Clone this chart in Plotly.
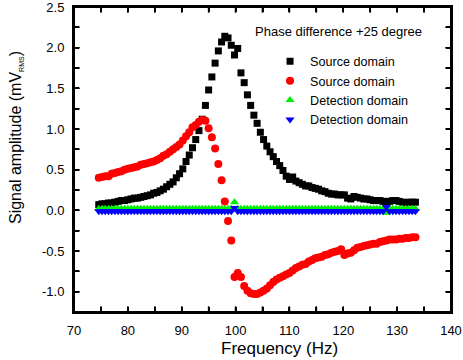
import plotly.graph_objects as go

# frequency sweep (Hz)
freq = [
    74.6, 75.2, 75.8, 76.4, 77.0, 77.6, 78.2, 78.8, 79.4, 80.0,
    80.6, 81.2, 81.8, 82.4, 83.0, 83.6, 84.2, 84.8, 85.4, 86.0,
    86.6, 87.2, 87.8, 88.4, 89.0, 89.6, 90.2, 90.8, 91.4, 92.0,
    92.6, 93.2, 93.8, 94.4, 95.0, 95.6, 96.2, 96.8, 97.4, 98.0,
    98.6, 99.2, 99.8, 100.4, 101.0, 101.6, 102.2, 102.8, 103.4, 104.0,
    104.6, 105.2, 105.8, 106.4, 107.0, 107.6, 108.2, 108.8, 109.4, 110.0,
    110.6, 111.2, 111.8, 112.4, 113.0, 113.6, 114.2, 114.8, 115.4, 116.0,
    116.6, 117.2, 117.8, 118.4, 119.0, 119.6, 120.2, 120.8, 121.4, 122.0,
    122.6, 123.2, 123.8, 124.4, 125.0, 125.6, 126.2, 126.8, 127.4, 128.0,
    128.6, 129.2, 129.8, 130.4, 131.0, 131.6, 132.2, 132.8, 133.4,
]

# source domain, squares
source_sq = [
    0.07, 0.08, 0.08, 0.09, 0.09, 0.10, 0.11, 0.12, 0.12, 0.13,
    0.14, 0.15, 0.15, 0.16, 0.17, 0.18, 0.19, 0.21, 0.22, 0.24,
    0.26, 0.29, 0.32, 0.35, 0.40, 0.45, 0.51, 0.60, 0.68, 0.77,
    0.87, 0.98, 1.12, 1.29, 1.48, 1.64, 1.81, 1.96, 2.07, 2.14,
    2.12, 2.03, 1.91, 1.99, 1.69, 1.57, 1.42, 1.29, 1.17, 1.07,
    0.96, 0.87, 0.79, 0.72, 0.66, 0.60, 0.55, 0.49, 0.42, 0.38,
    0.41, 0.36, 0.34, 0.32, 0.30, 0.30, 0.28, 0.27, 0.26, 0.24,
    0.23, 0.21, 0.20, 0.20, 0.19, 0.19, 0.19, 0.15, 0.14, 0.17,
    0.16, 0.15, 0.14, 0.14, 0.13, 0.12, 0.12, 0.12, 0.11, 0.11,
    0.11, 0.12, 0.12, 0.11, 0.10, 0.09, 0.10, 0.10, 0.10,
]

# source domain, circles
source_ci = [
    0.40, 0.41, 0.42, 0.42, 0.45, 0.46, 0.47, 0.48, 0.50, 0.51,
    0.52, 0.53, 0.54, 0.56, 0.57, 0.58, 0.59, 0.60, 0.62, 0.64,
    0.67, 0.69, 0.72, 0.75, 0.78, 0.81, 0.86, 0.91, 0.96, 1.02,
    1.05, 1.09, 1.11, 1.10, 1.01, 0.90, 0.76, 0.57, 0.37, 0.11,
    -0.13, -0.37, -0.82, -0.77, -0.82, -0.93, -0.99, -1.02, -1.03, -1.03,
    -1.01, -0.99, -0.96, -0.92, -0.88, -0.85, -0.83, -0.81, -0.79, -0.77,
    -0.74, -0.71, -0.69, -0.67, -0.66, -0.63, -0.61, -0.59, -0.58, -0.57,
    -0.55, -0.54, -0.52, -0.51, -0.50, -0.48, -0.55, -0.53, -0.52, -0.49,
    -0.46, -0.45, -0.44, -0.43, -0.42, -0.41, -0.41, -0.39, -0.38, -0.37,
    -0.36, -0.36, -0.36, -0.35, -0.35, -0.34, -0.34, -0.33, -0.33,
]

# detection domain, up triangles
detect_up = [
    0.02, 0.02, 0.02, 0.02, 0.02, 0.02, 0.02, 0.02, 0.02, 0.02,
    0.02, 0.02, 0.02, 0.02, 0.02, 0.02, 0.02, 0.02, 0.02, 0.02,
    0.02, 0.02, 0.02, 0.02, 0.02, 0.02, 0.02, 0.02, 0.02, 0.02,
    0.02, 0.02, 0.02, 0.02, 0.02, 0.02, 0.02, 0.02, 0.02, 0.02,
    0.02, 0.02, 0.10, 0.02, 0.02, 0.02, 0.02, 0.02, 0.02, 0.02,
    0.02, 0.02, 0.02, 0.02, 0.02, 0.02, 0.02, 0.02, 0.02, 0.02,
    0.02, 0.02, 0.02, 0.02, 0.02, 0.02, 0.02, 0.02, 0.02, 0.02,
    0.02, 0.02, 0.02, 0.02, 0.02, 0.02, 0.02, 0.02, 0.02, 0.02,
    0.02, 0.02, 0.02, 0.02, 0.02, 0.02, 0.02, 0.02, 0.02, -0.03,
    0.02, 0.02, 0.02, 0.02, 0.02, 0.02, 0.02, 0.02, 0.02,
]

# detection domain, down triangles
detect_dn = [
    -0.01, -0.01, -0.01, -0.01, -0.01, -0.01, -0.01, -0.01, -0.01, -0.01,
    -0.01, -0.01, -0.01, -0.01, -0.01, -0.01, -0.01, -0.01, -0.01, -0.01,
    -0.01, -0.01, -0.01, -0.01, -0.01, -0.01, -0.01, -0.01, -0.01, -0.01,
    -0.01, -0.01, -0.01, -0.01, -0.01, -0.01, -0.01, -0.01, -0.01, -0.01,
    -0.01, -0.01, 0.03, -0.01, -0.01, -0.01, -0.01, -0.01, -0.01, -0.01,
    -0.01, -0.01, -0.01, -0.01, -0.01, -0.01, -0.01, -0.01, -0.01, -0.01,
    -0.01, -0.01, -0.01, -0.01, -0.01, -0.01, -0.01, -0.01, -0.01, -0.01,
    -0.01, -0.01, -0.01, -0.01, -0.01, -0.01, -0.01, -0.01, -0.01, -0.01,
    -0.01, -0.01, -0.01, -0.01, -0.01, -0.01, -0.01, -0.01, -0.01, 0.04,
    -0.01, -0.01, -0.01, -0.01, -0.01, -0.01, -0.01, -0.01, -0.01,
]

x_ticks = [70, 75, 80, 85, 90, 95, 100, 105, 110, 115, 120, 125, 130, 135, 140]
x_labels = ["70", " ", "80", " ", "90", " ", "100", " ", "110", " ", "120", " ", "130", " ", "140"]
y_ticks = [-1.25, -1.0, -0.75, -0.5, -0.25, 0.0, 0.25, 0.5, 0.75, 1.0, 1.25, 1.5, 1.75, 2.0, 2.25, 2.5]
y_labels = [" ", "-1.0", " ", "-0.5", " ", "0.0", " ", "0.5", " ", "1.0", " ", "1.5", " ", "2.0", " ", "2.5"]
x_range = [70, 140]
y_range = [-1.25, 2.5]

FONT = "Arial, Liberation Sans, sans-serif"
W, H = 463, 360
ML, MR, MT, MB = 74, 12, 7, 48
PW, PH = W - ML - MR, H - MT - MB

fig = go.Figure()

series = [
    (source_sq, "Source domain", "square", "black", 7),
    (source_ci, "Source domain", "circle", "red", 8),
    (detect_up, "Detection domain", "triangle-up", "#00ee00", 8),
    (detect_dn, "Detection domain", "triangle-down", "blue", 8),
]
for y, name, sym, col, size in series:
    fig.add_trace(
        go.Scatter(
            x=freq,
            y=y,
            mode="markers",
            name=name,
            marker=dict(symbol=sym, color=col, size=size, line=dict(width=0)),
        )
    )

# frame + inside ticks built from small square markers (one per pixel step)
x0, x1 = x_range
y0, y1 = y_range
px_x = (x1 - x0) / PW
px_y = (y1 - y0) / PH
bx, by = [], []
for i in range(PW + 1):
    xv = x0 + i * px_x
    bx += [xv, xv]
    by += [y0, y1]
for j in range(PH + 1):
    yv = y0 + j * px_y
    bx += [x0, x1]
    by += [yv, yv]
fig.add_trace(
    go.Scatter(
        x=bx, y=by, mode="markers",
        marker=dict(symbol="square", color="black", size=2, line=dict(width=0)),
        showlegend=False, hoverinfo="skip", cliponaxis=False,
    )
)
tx, ty = [], []
for v in x_ticks:
    for k in range(1, 6):
        tx += [v, v]
        ty += [y0 + k * px_y, y1 - k * px_y]
for v in y_ticks:
    for k in range(1, 6):
        tx += [x0 + k * px_x, x1 - k * px_x]
        ty += [v, v]
fig.add_trace(
    go.Scatter(
        x=tx, y=ty, mode="markers",
        marker=dict(symbol="square", color="black", size=1.5, line=dict(width=0)),
        showlegend=False, hoverinfo="skip", cliponaxis=False,
    )
)

fig.update_layout(
    template="none",
    width=W,
    height=H,
    margin=dict(l=ML, r=MR, t=MT, b=MB),
    plot_bgcolor="white",
    paper_bgcolor="white",
    legend=dict(
        x=0.52, y=0.87, xanchor="left", yanchor="top",
        bgcolor="rgba(0,0,0,0)",
        font=dict(family=FONT, size=12.6, color="black"),
        tracegroupgap=0,
    ),
)

for ax, rng, tv, tt in (
    (fig.layout.xaxis, x_range, x_ticks, x_labels),
    (fig.layout.yaxis, y_range, y_ticks, y_labels),
):
    ax.update(
        range=rng,
        tickmode="array",
        tickvals=tv,
        ticktext=tt,
        showline=True,
        linewidth=2,
        linecolor="black",
        mirror="ticks",
        ticks="inside",
        ticklen=5,
        tickwidth=1.5,
        tickcolor="black",
        showgrid=False,
        zeroline=False,
        automargin=False,
        ticklabelstandoff=5,
        ticklabeloverflow="allow",
        tickfont=dict(family=FONT, size=13, color="black"),
    )

fig.add_annotation(
    text="Phase difference +25 degree",
    xref="paper", yref="paper",
    x=(338 - ML) / PW, y=(H - MB - 31) / PH,
    xanchor="center", yanchor="middle",
    showarrow=False,
    font=dict(family=FONT, size=13, color="black"),
)

# axis titles
fig.add_annotation(
    text="Frequency (Hz)",
    xref="paper", yref="paper",
    x=(279 - ML) / PW, y=(H - MB - 348) / PH,
    xanchor="center", yanchor="middle",
    showarrow=False,
    font=dict(family=FONT, size=17, color="black"),
)
fig.add_annotation(
    text="Signal amplitude (mV<sub><span style='font-size:7px'>RMS</span></sub>)",
    xref="paper", yref="paper",
    x=(16 - ML) / PW, y=(H - MB - 138) / PH,
    xanchor="center", yanchor="middle",
    textangle=-90,
    showarrow=False,
    font=dict(family=FONT, size=16, color="black"),
)

fig.write_html(
    "out.html",
    config={"displayModeBar": False},
    post_script="document.body.style.margin='0';",
)
